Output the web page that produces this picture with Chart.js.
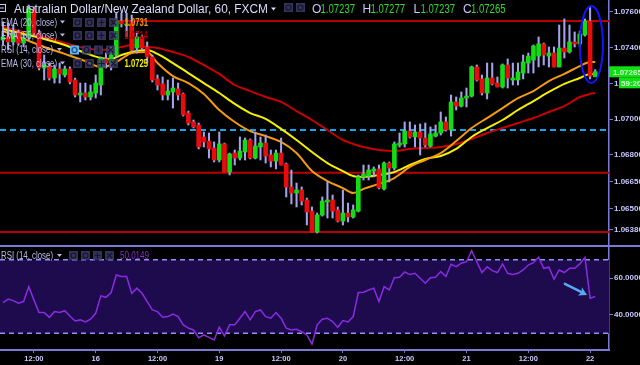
<!DOCTYPE html>
<html>
<head>
<meta charset="utf-8">
<title>AUD/NZD 60</title>
<script src="https://cdn.jsdelivr.net/npm/chart.js@4.4.1/dist/chart.umd.min.js"></script>
<style>
  html, body { margin: 0; padding: 0; background: #000; }
  #wrap { position: relative; width: 640px; height: 365px; overflow: hidden; background: #000; }
  canvas { position: absolute; left: 0; }
  #priceChart { top: 0; }
  #rsiChart { top: 245px; }
</style>
</head>
<body>
<div id="wrap">
  <canvas id="priceChart" width="640" height="245"></canvas>
  <canvas id="rsiChart" width="640" height="120"></canvas>
</div>
<script>
// hourly candles, index 0 = 15th 05:00 ... index 115 = 22nd 01:00
const opens = [
  1.07443, 1.07460, 1.07432, 1.07482, 1.07426, 1.07460, 1.07611, 1.07482, 1.07286, 1.07297,
  1.07230, 1.07281, 1.07247, 1.07281, 1.07219, 1.07135, 1.07146, 1.07124, 1.07146, 1.07191,
  1.07337, 1.07314, 1.07359, 1.07549, 1.07527, 1.07544, 1.07398, 1.07460, 1.07404, 1.07348,
  1.07225, 1.07197, 1.07135, 1.07152, 1.07169, 1.07141, 1.07034, 1.06984, 1.06967, 1.06900,
  1.06877, 1.06838, 1.06771, 1.06861, 1.06704, 1.06810, 1.06782, 1.06816, 1.06883, 1.06782,
  1.06844, 1.06866, 1.06799, 1.06765, 1.06810, 1.06749, 1.06620, 1.06586, 1.06603, 1.06547,
  1.06485, 1.06368, 1.06463, 1.06536, 1.06547, 1.06491, 1.06429, 1.06474, 1.06452, 1.06485,
  1.06676, 1.06681, 1.06709, 1.06721, 1.06609, 1.06754, 1.06726, 1.06855, 1.06861, 1.06933,
  1.06900, 1.06928, 1.06894, 1.06849, 1.06905, 1.06922, 1.06984, 1.06939, 1.07096, 1.07073,
  1.07118, 1.07129, 1.07292, 1.07225, 1.07146, 1.07230, 1.07202, 1.07180, 1.07303, 1.07219,
  1.07219, 1.07258, 1.07314, 1.07331, 1.07353, 1.07421, 1.07353, 1.07370, 1.07292, 1.07398,
  1.07376, 1.07432, 1.07421, 1.07471, 1.07549, 1.07237
];
const highs = [
  1.07544, 1.07538, 1.07527, 1.07499, 1.07471, 1.07639, 1.07628, 1.07499, 1.07359, 1.07314,
  1.07303, 1.07314, 1.07297, 1.07292, 1.07230, 1.07202, 1.07202, 1.07191, 1.07247, 1.07348,
  1.07370, 1.07404, 1.07594, 1.07594, 1.07594, 1.07583, 1.07482, 1.07471, 1.07432, 1.07359,
  1.07247, 1.07236, 1.07219, 1.07230, 1.07202, 1.07146, 1.07045, 1.06995, 1.06978, 1.06928,
  1.06922, 1.06872, 1.06928, 1.06866, 1.06810, 1.06827, 1.06900, 1.06894, 1.06889, 1.06928,
  1.06900, 1.06911, 1.06827, 1.06827, 1.06894, 1.06754, 1.06715, 1.06642, 1.06620, 1.06558,
  1.06508, 1.06474, 1.06564, 1.06648, 1.06575, 1.06508, 1.06603, 1.06530, 1.06519, 1.06687,
  1.06743, 1.06743, 1.06732, 1.06743, 1.06760, 1.06760, 1.06872, 1.06922, 1.06984, 1.06984,
  1.06967, 1.06973, 1.06978, 1.06956, 1.06967, 1.07040, 1.07012, 1.07135, 1.07124, 1.07152,
  1.07174, 1.07297, 1.07303, 1.07247, 1.07314, 1.07314, 1.07236, 1.07309, 1.07337, 1.07314,
  1.07314, 1.07359, 1.07370, 1.07415, 1.07460, 1.07426, 1.07404, 1.07404, 1.07527, 1.07561,
  1.07527, 1.07488, 1.07493, 1.07561, 1.07628, 1.07277
];
const lows = [
  1.07415, 1.07387, 1.07415, 1.07415, 1.07404, 1.07443, 1.07471, 1.07275, 1.07219, 1.07219,
  1.07202, 1.07202, 1.07236, 1.07197, 1.07124, 1.07096, 1.07107, 1.07107, 1.07118, 1.07135,
  1.07286, 1.07275, 1.07348, 1.07516, 1.07460, 1.07376, 1.07370, 1.07387, 1.07314, 1.07208,
  1.07163, 1.07107, 1.07107, 1.07062, 1.07107, 1.07017, 1.06967, 1.06950, 1.06833, 1.06844,
  1.06782, 1.06760, 1.06760, 1.06704, 1.06687, 1.06743, 1.06771, 1.06771, 1.06777, 1.06777,
  1.06771, 1.06754, 1.06732, 1.06721, 1.06743, 1.06564, 1.06525, 1.06508, 1.06519, 1.06407,
  1.06368, 1.06362, 1.06457, 1.06446, 1.06446, 1.06424, 1.06407, 1.06424, 1.06446, 1.06480,
  1.06659, 1.06659, 1.06676, 1.06609, 1.06603, 1.06648, 1.06715, 1.06844, 1.06844, 1.06894,
  1.06844, 1.06799, 1.06844, 1.06844, 1.06900, 1.06911, 1.06933, 1.06905, 1.07051, 1.07068,
  1.07068, 1.07124, 1.07213, 1.07135, 1.07113, 1.07191, 1.07180, 1.07174, 1.07174, 1.07191,
  1.07191, 1.07225, 1.07258, 1.07258, 1.07292, 1.07303, 1.07292, 1.07292, 1.07292, 1.07342,
  1.07370, 1.07404, 1.07404, 1.07465, 1.07225, 1.07237
];
const closes = [
  1.07460, 1.07432, 1.07477, 1.07426, 1.07454, 1.07617, 1.07482, 1.07286, 1.07303, 1.07230,
  1.07281, 1.07253, 1.07281, 1.07208, 1.07135, 1.07146, 1.07124, 1.07152, 1.07202, 1.07342,
  1.07314, 1.07359, 1.07549, 1.07533, 1.07533, 1.07387, 1.07460, 1.07398, 1.07348, 1.07219,
  1.07191, 1.07135, 1.07157, 1.07174, 1.07135, 1.07023, 1.06978, 1.06956, 1.06844, 1.06872,
  1.06833, 1.06771, 1.06861, 1.06704, 1.06805, 1.06782, 1.06821, 1.06883, 1.06782, 1.06849,
  1.06866, 1.06793, 1.06765, 1.06810, 1.06743, 1.06620, 1.06586, 1.06603, 1.06541, 1.06480,
  1.06368, 1.06463, 1.06541, 1.06547, 1.06485, 1.06429, 1.06474, 1.06452, 1.06491, 1.06676,
  1.06693, 1.06715, 1.06721, 1.06614, 1.06754, 1.06726, 1.06861, 1.06866, 1.06933, 1.06900,
  1.06928, 1.06894, 1.06855, 1.06917, 1.06922, 1.06984, 1.06939, 1.07096, 1.07073, 1.07118,
  1.07129, 1.07292, 1.07219, 1.07146, 1.07230, 1.07197, 1.07180, 1.07303, 1.07230, 1.07230,
  1.07264, 1.07320, 1.07353, 1.07409, 1.07421, 1.07359, 1.07370, 1.07292, 1.07398, 1.07376,
  1.07432, 1.07421, 1.07477, 1.07549, 1.07241, 1.07265
];

// moving averages at these bar positions
const emaIdx = [0, 4, 8, 12, 16, 19, 21, 23, 25, 28, 30, 33, 36, 39, 42, 45, 48, 51, 54, 57, 60,
  63, 66, 68, 70, 73, 76, 79, 82, 85, 88, 91, 94, 97, 100, 103, 106, 109, 112, 114, 115];
const ema20 = [1.07493, 1.07449, 1.07404, 1.07365, 1.07325, 1.07292, 1.07303, 1.07337, 1.07370, 1.07376, 1.07314,
  1.07241, 1.07202, 1.07141, 1.07051, 1.06984, 1.06933, 1.06905, 1.06872, 1.06810, 1.06709,
  1.06653, 1.06614, 1.06586, 1.06609, 1.06637, 1.06670, 1.06732, 1.06771, 1.06810, 1.06877,
  1.06950, 1.07006, 1.07062, 1.07118, 1.07157, 1.07213, 1.07253, 1.07297, 1.07320, 1.07320];
const ema30 = [1.07505, 1.07477, 1.07449, 1.07415, 1.07370, 1.07342, 1.07337, 1.07359, 1.07376, 1.07387, 1.07365,
  1.07314, 1.07258, 1.07202, 1.07146, 1.07085, 1.07034, 1.07001, 1.06945, 1.06883, 1.06816,
  1.06754, 1.06709, 1.06681, 1.06676, 1.06687, 1.06704, 1.06743, 1.06777, 1.06793, 1.06833,
  1.06900, 1.06950, 1.06995, 1.07051, 1.07101, 1.07152, 1.07197, 1.07230, 1.07253, 1.07253];
const ema55 = [1.07516, 1.07488, 1.07460, 1.07426, 1.07398, 1.07387, 1.07393, 1.07404, 1.07415, 1.07404, 1.07398,
  1.07376, 1.07348, 1.07303, 1.07253, 1.07191, 1.07157, 1.07124, 1.07096, 1.07045, 1.06995,
  1.06939, 1.06883, 1.06861, 1.06844, 1.06827, 1.06821, 1.06833, 1.06838, 1.06844, 1.06861,
  1.06889, 1.06922, 1.06950, 1.06978, 1.07006, 1.07040, 1.07073, 1.07124, 1.07141, 1.07146];

const rsi = [
  46.7, 48.6, 47.8, 46.4, 47.3, 55.4, 48.2, 41.3, 41.3, 38.7,
  41.8, 41.3, 42.3, 39.4, 36.7, 37.3, 36.2, 37.7, 40.9, 50.4,
  49.6, 52.2, 61.8, 60.9, 60.9, 51.8, 54.6, 51.8, 47.3, 42.7,
  41.8, 38.7, 39.1, 40.5, 39.1, 34.6, 32.8, 31.8, 27.6, 29.1,
  27.8, 26.4, 33.3, 28.6, 34.6, 34.6, 38.2, 41.8, 37.3, 41.8,
  42.7, 39.1, 38.2, 41.3, 38.2, 32.8, 31.8, 32.2, 30.9, 29.1,
  24.2, 34.6, 37.7, 38.2, 36.4, 33.3, 36.9, 36.2, 39.1, 52.2,
  52.4, 53.6, 54.6, 47.3, 55.4, 53.6, 60.3, 60.5, 63.4, 62.0,
  62.7, 60.0, 57.3, 60.3, 60.5, 63.6, 60.9, 67.6, 66.3, 68.2,
  69.0, 75.0, 69.0, 63.1, 66.3, 64.1, 63.1, 67.8, 62.7, 62.0,
  62.7, 64.5, 67.2, 68.5, 71.4, 65.4, 66.0, 59.5, 64.5, 63.1,
  65.4, 65.4, 67.8, 71.4, 49.1, 50.0
];

// axes
const xTickIdx = [6, 18, 30, 42, 54, 66, 78, 90, 102, 114];
const xTickText = ['12:00', '16', '12:00', '19', '12:00', '20', '12:00', '21', '12:00', '22'];
const priceTicks = [1.076, 1.074, 1.072, 1.070, 1.068, 1.0665, 1.065, 1.0638];
const rsiTicks = [40, 60];

// drawn levels
const redLevels = [1.0755, 1.0670, 1.06368];
const redLevelFrom = [22, -0.58, -0.58];
const blueLevel = 1.06939;
const countdown = '59:20';

const XMIN = -0.58, XMAX = 117.67;
const PMIN = 1.06295, PMAX = 1.07667;
const RMIN = 20.9, RMAX = 78.1;

const GREEN = '#14dc14', RED = '#e80c0c', WICK = '#a4a4ec';
const AXIS = '#7a7ad6', TXT = '#c8c8ff';
const FONT = 'Liberation Sans';

const idx = opens.map((_, i) => i);

function text(ctx, str, x, y, size, color, w, weight) {
  ctx.save();
  ctx.font = (weight || 'normal') + ' ' + size + 'px "' + FONT + '"';
  ctx.fillStyle = color;
  ctx.textBaseline = 'alphabetic';
  ctx.translate(x, y);
  if (w) ctx.scale(w / ctx.measureText(str).width, 1);
  ctx.fillText(str, 0, 0);
  ctx.restore();
}

function downTri(ctx, x, y, color) {
  ctx.fillStyle = color;
  ctx.beginPath();
  ctx.moveTo(x, y); ctx.lineTo(x + 5, y); ctx.lineTo(x + 2.5, y + 3);
  ctx.closePath(); ctx.fill();
}

function icons(ctx, x, y, n, hi) {
  for (let k = 0; k < n; k++) {
    const bx = x + k * 12;
    const lit = hi && k === 0;
    ctx.fillStyle = lit ? '#5ab4ec' : 'rgba(62,62,112,0.8)';
    ctx.fillRect(bx, y, 9, 9);
    ctx.strokeStyle = lit ? '#234a80' : 'rgba(18,18,40,0.9)';
    ctx.lineWidth = 1.2;
    ctx.beginPath();
    if (k < 2) {
      ctx.arc(bx + 4.5, y + 4.5, 2.5, 0, Math.PI * 2);
    } else if (k === 2) {
      ctx.moveTo(bx + 4.5, y + 1.5); ctx.lineTo(bx + 4.5, y + 7.5);
      ctx.moveTo(bx + 1.5, y + 4.5); ctx.lineTo(bx + 7.5, y + 4.5);
    } else {
      ctx.moveTo(bx + 2, y + 2); ctx.lineTo(bx + 7, y + 7);
      ctx.moveTo(bx + 7, y + 2); ctx.lineTo(bx + 2, y + 7);
    }
    ctx.stroke();
  }
}

// price panel overlays: ellipse, header, legend, last price tags
const priceDeco = {
  id: 'priceDeco',
  afterDraw(chart) {
    const ctx = chart.ctx;
    const x = chart.scales.x, y = chart.scales.y;

    // blue ellipse round the last big candle
    const ex0 = x.getPixelForValue(112.0), ex1 = x.getPixelForValue(116.5);
    const ey0 = y.getPixelForValue(1.07633), ey1 = y.getPixelForValue(1.07202);
    ctx.save();
    ctx.strokeStyle = '#1414ff';
    ctx.lineWidth = 2;
    ctx.beginPath();
    ctx.ellipse((ex0 + ex1) / 2, (ey0 + ey1) / 2, (ex1 - ex0) / 2, (ey1 - ey0) / 2, 0, 0, Math.PI * 2);
    ctx.stroke();
    ctx.restore();

    // header
    ctx.save();
    ctx.strokeStyle = TXT; ctx.lineWidth = 1;
    ctx.strokeRect(-2.5, 4.5, 8, 7);
    ctx.beginPath(); ctx.moveTo(-1, 8); ctx.lineTo(4, 8); ctx.stroke();
    ctx.restore();
    text(ctx, 'Australian Dollar/New Zealand Dollar, 60, FXCM', 14, 13, 12.5, '#dcdcff', 254);
    downTri(ctx, 271, 7.5, '#dcdcff');
    icons(ctx, 284, 3, 2, false);
    const ohlc = [['O', 312, '1.07237', 320.5], ['H', 362.5, '1.07277', 370.5],
                  ['L', 413.5, '1.07237', 420.5], ['C', 463, '1.07265', 471]];
    ohlc.forEach(([k, kx, v, vx]) => {
      text(ctx, k, kx, 13, 12, TXT, 0);
      text(ctx, v, vx, 13, 12, '#2fdc2f', 34.5);
    });

    // indicator legend
    const rows = [
      ['EMA (20, close)', 25.5, '1.0731', '#f39a10', false],
      ['EMA (55, close)', 38.5, '1.0714', '#a80000', false],
      ['RSI (14, close)', 53, '', '', true],
      ['EMA (30, close)', 66.5, '1.0725', '#f4f000', false]
    ];
    rows.forEach(([name, by, val, col, hi]) => {
      text(ctx, name, 1, by, 10, 'rgba(200,200,255,0.92)', name[0] === 'R' ? 52 : 56);
      downTri(ctx, name[0] === 'R' ? 57 : 60, by - 5, 'rgba(200,200,255,0.92)');
      icons(ctx, hi ? 70 : 73, by - 7.5, 4, hi);
      if (val) text(ctx, val, 124.5, by, 10.5, col, 23.5, 'bold');
    });

    // last price and countdown tags on the price scale
    const py = y.getPixelForValue(closes[closes.length - 1]);
    ctx.fillStyle = '#10e010';
    ctx.fillRect(609, py - 5.5, 31, 11);
    text(ctx, '1.07265', 613, py + 3, 8, '#d4f8d4', 0, 'bold');
    ctx.fillStyle = '#10e010';
    ctx.fillRect(619, py + 5.5, 21, 11);
    text(ctx, countdown, 621, py + 14, 8, '#d4f8d4', 0, 'bold');
  }
};

// rsi panel: band, dashed levels, borders, legend and arrow
const rsiDeco = {
  id: 'rsiDeco',
  beforeDatasetsDraw(chart) {
    const ctx = chart.ctx, a = chart.chartArea, y = chart.scales.y;
    const y70 = y.getPixelForValue(70), y30 = y.getPixelForValue(30);
    ctx.save();
    ctx.fillStyle = '#1d0b4e';
    ctx.fillRect(a.left, y70, a.right - a.left, y30 - y70);
    ctx.strokeStyle = '#9a8cff';
    ctx.lineWidth = 1.5;
    ctx.setLineDash([5, 4]);
    [y70, y30].forEach(v => {
      ctx.beginPath(); ctx.moveTo(a.left, v); ctx.lineTo(a.right, v); ctx.stroke();
    });
    ctx.restore();
  },
  afterDraw(chart) {
    const ctx = chart.ctx, x = chart.scales.x, y = chart.scales.y;
    ctx.save();
    ctx.strokeStyle = AXIS; ctx.lineWidth = 2;
    ctx.beginPath(); ctx.moveTo(0, 1); ctx.lineTo(640, 1); ctx.stroke();
    ctx.restore();

    text(ctx, 'RSI (14, close)', 1, 14, 10, 'rgba(200,200,255,0.92)', 52);
    downTri(ctx, 57, 9, 'rgba(200,200,255,0.92)');
    icons(ctx, 69, 6, 4, false);
    text(ctx, '50.0149', 120, 14, 10, '#8a2be2', 29);

    // arrow pointing at the drop
    const x0 = x.getPixelForValue(109.1), y0 = y.getPixelForValue(56.9);
    const x1 = x.getPixelForValue(113.4), y1 = y.getPixelForValue(50.9);
    const ang = Math.atan2(y1 - y0, x1 - x0);
    ctx.save();
    ctx.strokeStyle = '#58a8f4'; ctx.fillStyle = '#58a8f4';
    ctx.lineWidth = 2.5; ctx.lineCap = 'round';
    ctx.beginPath(); ctx.moveTo(x0, y0); ctx.lineTo(x1 - 5 * Math.cos(ang), y1 - 5 * Math.sin(ang)); ctx.stroke();
    ctx.translate(x1, y1); ctx.rotate(ang);
    ctx.beginPath(); ctx.moveTo(0, 0); ctx.lineTo(-8, -4.5); ctx.lineTo(-6, 0); ctx.lineTo(-8, 4.5); ctx.closePath(); ctx.fill();
    ctx.restore();
  }
};

const common = {
  responsive: false,
  animation: false,
  devicePixelRatio: 1,
  events: [],
  layout: { padding: 0 },
  plugins: { legend: { display: false }, tooltip: { enabled: false } }
};

function noPad(s) { s.paddingTop = 0; s.paddingBottom = 0; s.paddingLeft = 0; s.paddingRight = 0; }

const hline = (from, v, color, dash) => ({
  type: 'line',
  data: [{ x: from, y: v }, { x: XMAX, y: v }],
  borderColor: color, borderWidth: 2, borderDash: dash || [],
  pointRadius: 0, order: 9
});
const emaLine = (vals, color, order) => ({
  type: 'line',
  data: emaIdx.map((i, k) => ({ x: i, y: vals[k] })),
  borderColor: color, borderWidth: 2, pointRadius: 0,
  cubicInterpolationMode: 'monotone', order: order
});

new Chart(document.getElementById('priceChart'), {
  type: 'bar',
  data: {
    datasets: [
      {
        type: 'bar',
        data: idx.map(i => ({ x: i, y: [opens[i], closes[i]] })),
        backgroundColor: idx.map(i => closes[i] >= opens[i] ? GREEN : RED),
        barThickness: 4, minBarLength: 1, grouped: false, order: 0
      },
      {
        type: 'bar',
        data: idx.map(i => ({ x: i, y: [lows[i], highs[i]] })),
        backgroundColor: WICK,
        barThickness: 1.4, grouped: false, order: 1
      },
      emaLine(ema20, '#f39a10', 2),
      emaLine(ema30, '#f4f000', 3),
      emaLine(ema55, '#c80000', 4),
      hline(redLevelFrom[0], redLevels[0], '#b80000'),
      hline(redLevelFrom[1], redLevels[1], '#b80000'),
      hline(redLevelFrom[2], redLevels[2], '#b80000'),
      hline(XMIN, blueLevel, '#12a6f0', [6, 4])
    ]
  },
  options: Object.assign({}, common, {
    scales: {
      x: { type: 'linear', min: XMIN, max: XMAX, offset: false, display: false },
      y: {
        position: 'right', min: PMIN, max: PMAX,
        afterBuildTicks: s => { s.ticks = priceTicks.map(v => ({ value: v })); },
        afterFit: s => { s.width = 31; noPad(s); },
        ticks: {
          autoSkip: false, padding: 1, color: TXT,
          font: { family: FONT, size: 8, weight: 'bold' },
          callback: v => v.toFixed(5)
        },
        grid: { drawOnChartArea: false, color: AXIS, tickLength: 4 },
        border: { color: AXIS, width: 1.5 }
      }
    }
  }),
  plugins: [priceDeco]
});

new Chart(document.getElementById('rsiChart'), {
  type: 'line',
  data: {
    datasets: [{
      data: idx.map(i => ({ x: i, y: rsi[i] })),
      borderColor: '#8a2be2', borderWidth: 1.5, pointRadius: 0, tension: 0
    }]
  },
  options: Object.assign({}, common, {
    scales: {
      x: {
        type: 'linear', min: XMIN, max: XMAX, offset: false,
        afterBuildTicks: s => { s.ticks = xTickIdx.map(v => ({ value: v })); },
        afterFit: s => { s.height = 15; noPad(s); },
        ticks: {
          autoSkip: false, maxRotation: 0, padding: 1, color: TXT,
          font: { family: FONT, size: 7.5, weight: 'bold' },
          callback: v => xTickText[xTickIdx.indexOf(v)] || ''
        },
        grid: { drawOnChartArea: false, color: AXIS, tickLength: 3 },
        border: { color: AXIS, width: 2 }
      },
      y: {
        position: 'right', min: RMIN, max: RMAX,
        afterBuildTicks: s => { s.ticks = rsiTicks.map(v => ({ value: v })); },
        afterFit: s => { s.width = 31; noPad(s); },
        ticks: {
          autoSkip: false, padding: 1, color: TXT,
          font: { family: FONT, size: 8, weight: 'bold' },
          callback: v => v.toFixed(4)
        },
        grid: { drawOnChartArea: false, color: AXIS, tickLength: 4 },
        border: { color: AXIS, width: 1.5 }
      }
    }
  }),
  plugins: [rsiDeco]
});
</script>
</body>
</html>
